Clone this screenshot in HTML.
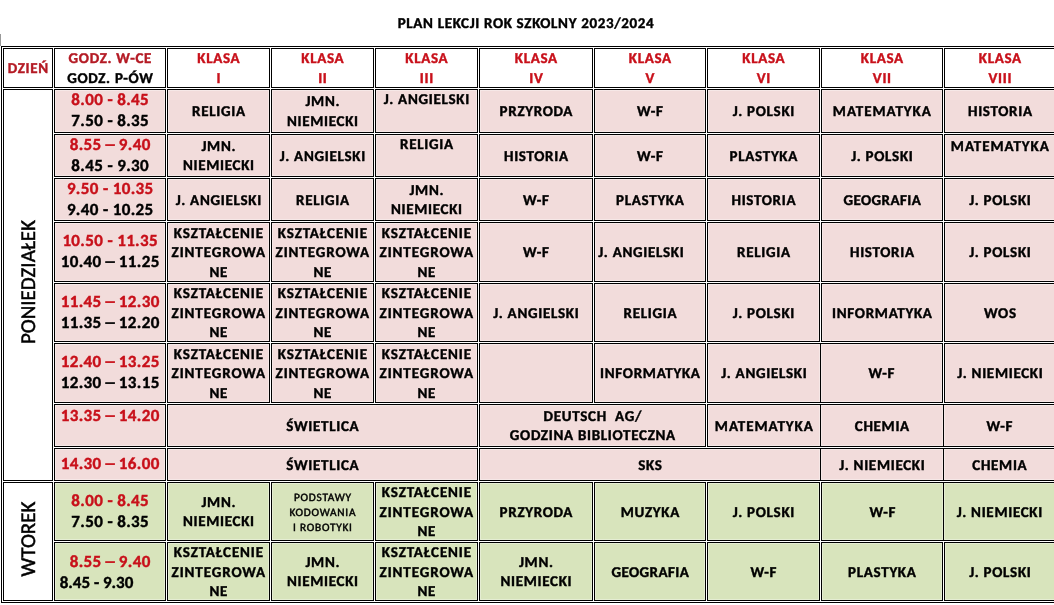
<!DOCTYPE html>
<html lang="pl"><head><meta charset="utf-8"><title>Plan lekcji 2023/2024</title>
<style>
html,body{margin:0;padding:0;background:#fff}
body{width:1054px;height:605px;overflow:hidden;position:relative;font-family:Carlito,"Liberation Sans",sans-serif;font-weight:bold;font-size:15px;color:#000;text-rendering:geometricPrecision;-webkit-text-stroke:.4px}
.title{position:absolute;left:-1px;top:14.6px;width:1054px;text-align:center;letter-spacing:.65px;line-height:19.5px;white-space:nowrap}
.gl{position:absolute;left:0;top:34px;width:1px;height:12px;background:#999}
.tbl{position:absolute;left:1px;top:46px;width:1070px;height:557px;box-sizing:border-box;border:1px solid #000}
.c{position:absolute;box-sizing:border-box;border:1px solid #000;display:flex;align-items:center;justify-content:center;text-align:center;line-height:19.5px;letter-spacing:0.7px;padding-left:0.7px;white-space:nowrap}
.p{background:#F2DCDB;box-shadow:inset 0 0 0 1px rgba(255,255,255,.35)}
.g{background:#D8E4BC;box-shadow:inset 0 0 0 1px rgba(255,255,255,.35)}
.c>div{position:relative;top:1.8px}
.top{align-items:flex-start}
.top>div{margin-top:-1px}
.tm>div{top:0}
.nd{display:inline-block;transform:scaleX(1.5)}
.lft{justify-content:flex-start;padding-left:3.3px}
.tm10{align-items:stretch}
.tm10>div{width:100%;padding-top:9.2px;top:0}
.tm10>div>span:last-child{padding-left:4.3px;letter-spacing:0}
.r{color:#C8101A;-webkit-text-stroke-color:#C8101A}
.hr{color:#B41A24;-webkit-text-stroke-color:#B41A24}
.tm{font-size:17px;line-height:20.6px;letter-spacing:.36px;padding-left:.36px}
.sm{font-size:11.3px;line-height:14.7px;letter-spacing:.78px;padding-left:.78px;font-weight:normal;-webkit-text-stroke:.45px}
.b2{display:block;text-align:left;margin-left:-0px}
.day{position:absolute;font-weight:normal;font-size:21px;line-height:25px;white-space:nowrap;-webkit-text-stroke:.5px;transform:translate(-50%,-50%) rotate(-90deg)}
</style></head><body>
<div class="title">PLAN LEKCJI ROK SZKOLNY 2023/2024</div>
<div class="gl"></div>
<div class="tbl"></div>
<div class="c " style="left:3px;top:48px;width:50px;height:40px;"><div><span class="hr">DZIEŃ</span></div></div>
<div class="c " style="left:54px;top:48px;width:112px;height:40px;"><div><span class="hr">GODZ. W-CE</span><br>GODZ. P-ÓW</div></div>
<div class="c " style="left:167px;top:48px;width:103px;height:40px;"><div><span class="r">KLASA<br>I</span></div></div>
<div class="c " style="left:271px;top:48px;width:103px;height:40px;"><div><span class="r">KLASA<br>II</span></div></div>
<div class="c " style="left:375px;top:48px;width:103px;height:40px;"><div><span class="r">KLASA<br>III</span></div></div>
<div class="c " style="left:479px;top:48px;width:114px;height:40px;"><div><span class="r">KLASA<br>IV</span></div></div>
<div class="c " style="left:594px;top:48px;width:112px;height:40px;"><div><span class="r">KLASA<br>V</span></div></div>
<div class="c " style="left:707px;top:48px;width:113px;height:40px;"><div><span class="r">KLASA<br>VI</span></div></div>
<div class="c " style="left:821px;top:48px;width:122px;height:40px;"><div><span class="r">KLASA<br>VII</span></div></div>
<div class="c " style="left:944px;top:48px;width:112px;height:40px;"><div><span class="r">KLASA<br>VIII</span></div></div>
<div class="c " style="left:3px;top:89px;width:50px;height:392px;"><div></div></div>
<div class="c " style="left:3px;top:482px;width:50px;height:119px;"><div></div></div>
<div class="c p tm" style="left:54px;top:89px;width:112px;height:44px;"><div><span class="r">8.00 - 8.45</span><br>7.50 - 8.35</div></div>
<div class="c p" style="left:167px;top:89px;width:103px;height:44px;"><div>RELIGIA</div></div>
<div class="c p" style="left:271px;top:89px;width:103px;height:44px;"><div>JMN.<br>NIEMIECKI</div></div>
<div class="c p top" style="left:375px;top:89px;width:103px;height:44px;"><div>J. ANGIELSKI</div></div>
<div class="c p" style="left:479px;top:89px;width:114px;height:44px;"><div>PRZYRODA</div></div>
<div class="c p" style="left:594px;top:89px;width:112px;height:44px;"><div>W-F</div></div>
<div class="c p" style="left:707px;top:89px;width:113px;height:44px;"><div>J. POLSKI</div></div>
<div class="c p" style="left:821px;top:89px;width:122px;height:44px;"><div><span style="letter-spacing:0.97px">MATEMATYKA</span></div></div>
<div class="c p" style="left:944px;top:89px;width:112px;height:44px;"><div>HISTORIA</div></div>
<div class="c p tm" style="left:54px;top:134px;width:112px;height:43px;"><div><span class="r">8.55 <span class="nd">–</span> 9.40</span><br>8.45 - 9.30</div></div>
<div class="c p" style="left:167px;top:134px;width:103px;height:43px;"><div>JMN.<br>NIEMIECKI</div></div>
<div class="c p" style="left:271px;top:134px;width:103px;height:43px;"><div>J. ANGIELSKI</div></div>
<div class="c p top" style="left:375px;top:134px;width:103px;height:43px;"><div>RELIGIA</div></div>
<div class="c p" style="left:479px;top:134px;width:114px;height:43px;"><div>HISTORIA</div></div>
<div class="c p" style="left:594px;top:134px;width:112px;height:43px;"><div>W-F</div></div>
<div class="c p" style="left:707px;top:134px;width:113px;height:43px;"><div>PLASTYKA</div></div>
<div class="c p" style="left:821px;top:134px;width:122px;height:43px;"><div>J. POLSKI</div></div>
<div class="c p top" style="left:944px;top:134px;width:112px;height:43px;"><div style="margin-top:1px"><span style="letter-spacing:0.97px">MATEMATYKA</span></div></div>
<div class="c p tm" style="left:54px;top:178px;width:112px;height:43px;"><div><span class="r">9.50 - 10.35</span><br>9.40 - 10.25</div></div>
<div class="c p" style="left:167px;top:178px;width:103px;height:43px;"><div>J. ANGIELSKI</div></div>
<div class="c p" style="left:271px;top:178px;width:103px;height:43px;"><div>RELIGIA</div></div>
<div class="c p" style="left:375px;top:178px;width:103px;height:43px;"><div>JMN.<br>NIEMIECKI</div></div>
<div class="c p" style="left:479px;top:178px;width:114px;height:43px;"><div>W-F</div></div>
<div class="c p" style="left:594px;top:178px;width:112px;height:43px;"><div>PLASTYKA</div></div>
<div class="c p" style="left:707px;top:178px;width:113px;height:43px;"><div>HISTORIA</div></div>
<div class="c p" style="left:821px;top:178px;width:122px;height:43px;"><div><span style="letter-spacing:0.42px">GEOGRAFIA</span></div></div>
<div class="c p" style="left:944px;top:178px;width:112px;height:43px;"><div>J. POLSKI</div></div>
<div class="c p tm" style="left:54px;top:222px;width:112px;height:60px;"><div><span class="r">10.50 - 11.35</span><br>10.40 <span class="nd">–</span> 11.25</div></div>
<div class="c p" style="left:167px;top:222px;width:103px;height:60px;"><div><span style="letter-spacing:0.86px">KSZTAŁCENIE</span><br><span style="letter-spacing:0.92px">ZINTEGROWA</span><br>NE</div></div>
<div class="c p" style="left:271px;top:222px;width:103px;height:60px;"><div><span style="letter-spacing:0.86px">KSZTAŁCENIE</span><br><span style="letter-spacing:0.92px">ZINTEGROWA</span><br>NE</div></div>
<div class="c p" style="left:375px;top:222px;width:103px;height:60px;"><div><span style="letter-spacing:0.86px">KSZTAŁCENIE</span><br><span style="letter-spacing:0.92px">ZINTEGROWA</span><br>NE</div></div>
<div class="c p" style="left:479px;top:222px;width:114px;height:60px;"><div>W-F</div></div>
<div class="c p lft" style="left:594px;top:222px;width:112px;height:60px;"><div>J. ANGIELSKI</div></div>
<div class="c p" style="left:707px;top:222px;width:113px;height:60px;"><div>RELIGIA</div></div>
<div class="c p" style="left:821px;top:222px;width:122px;height:60px;"><div>HISTORIA</div></div>
<div class="c p" style="left:944px;top:222px;width:112px;height:60px;"><div>J. POLSKI</div></div>
<div class="c p tm" style="left:54px;top:283px;width:112px;height:59px;"><div><span class="r">11.45 <span class="nd">–</span> 12.30</span><br>11.35 <span class="nd">–</span> 12.20</div></div>
<div class="c p" style="left:167px;top:283px;width:103px;height:59px;"><div><span style="letter-spacing:0.86px">KSZTAŁCENIE</span><br><span style="letter-spacing:0.92px">ZINTEGROWA</span><br>NE</div></div>
<div class="c p" style="left:271px;top:283px;width:103px;height:59px;"><div><span style="letter-spacing:0.86px">KSZTAŁCENIE</span><br><span style="letter-spacing:0.92px">ZINTEGROWA</span><br>NE</div></div>
<div class="c p" style="left:375px;top:283px;width:103px;height:59px;"><div><span style="letter-spacing:0.86px">KSZTAŁCENIE</span><br><span style="letter-spacing:0.92px">ZINTEGROWA</span><br>NE</div></div>
<div class="c p" style="left:479px;top:283px;width:114px;height:59px;"><div>J. ANGIELSKI</div></div>
<div class="c p" style="left:594px;top:283px;width:112px;height:59px;"><div>RELIGIA</div></div>
<div class="c p" style="left:707px;top:283px;width:113px;height:59px;"><div>J. POLSKI</div></div>
<div class="c p" style="left:821px;top:283px;width:122px;height:59px;"><div>INFORMATYKA</div></div>
<div class="c p" style="left:944px;top:283px;width:112px;height:59px;"><div>WOS</div></div>
<div class="c p tm" style="left:54px;top:343px;width:112px;height:60px;"><div><span class="r">12.40 <span class="nd">–</span> 13.25</span><br>12.30 <span class="nd">–</span> 13.15</div></div>
<div class="c p" style="left:167px;top:343px;width:103px;height:60px;"><div><span style="letter-spacing:0.86px">KSZTAŁCENIE</span><br><span style="letter-spacing:0.92px">ZINTEGROWA</span><br>NE</div></div>
<div class="c p" style="left:271px;top:343px;width:103px;height:60px;"><div><span style="letter-spacing:0.86px">KSZTAŁCENIE</span><br><span style="letter-spacing:0.92px">ZINTEGROWA</span><br>NE</div></div>
<div class="c p" style="left:375px;top:343px;width:103px;height:60px;"><div><span style="letter-spacing:0.86px">KSZTAŁCENIE</span><br><span style="letter-spacing:0.92px">ZINTEGROWA</span><br>NE</div></div>
<div class="c p" style="left:479px;top:343px;width:114px;height:60px;"><div></div></div>
<div class="c p" style="left:594px;top:343px;width:112px;height:60px;"><div>INFORMATYKA</div></div>
<div class="c p" style="left:707px;top:343px;width:114px;height:60px;"><div>J. ANGIELSKI</div></div>
<div class="c p" style="left:821px;top:343px;width:122px;height:60px;border-left:0;"><div>W-F</div></div>
<div class="c p" style="left:944px;top:343px;width:112px;height:60px;"><div>J. NIEMIECKI</div></div>
<div class="c p tm top" style="left:54px;top:404px;width:112px;height:43px;"><div style="margin-top:.5px"><span class="r">13.35 <span class="nd">–</span> 14.20</span></div></div>
<div class="c p" style="left:167px;top:404px;width:311px;height:43px;"><div>ŚWIETLICA</div></div>
<div class="c p" style="left:479px;top:404px;width:227px;height:43px;"><div>DEUTSCH&nbsp; AG/<br>GODZINA BIBLIOTECZNA</div></div>
<div class="c p" style="left:707px;top:404px;width:114px;height:43px;"><div><span style="letter-spacing:0.97px">MATEMATYKA</span></div></div>
<div class="c p" style="left:821px;top:404px;width:123px;height:43px;border-left:0;"><div>CHEMIA</div></div>
<div class="c p" style="left:944px;top:404px;width:112px;height:43px;border-left:0;"><div>W-F</div></div>
<div class="c p tm" style="left:54px;top:448px;width:112px;height:33px;"><div><span class="r">14.30 <span class="nd">–</span> 16.00</span></div></div>
<div class="c p" style="left:167px;top:448px;width:311px;height:33px;"><div>ŚWIETLICA</div></div>
<div class="c p" style="left:479px;top:448px;width:342px;height:33px;"><div>SKS</div></div>
<div class="c p" style="left:821px;top:448px;width:123px;height:33px;border-left:0;"><div>J. NIEMIECKI</div></div>
<div class="c p" style="left:944px;top:448px;width:112px;height:33px;border-left:0;"><div>CHEMIA</div></div>
<div class="c g tm" style="left:54px;top:482px;width:112px;height:59px;"><div><span class="r">8.00 - 8.45</span><br>7.50 - 8.35</div></div>
<div class="c g" style="left:167px;top:482px;width:103px;height:59px;"><div>JMN.<br>NIEMIECKI</div></div>
<div class="c g sm" style="left:271px;top:482px;width:103px;height:59px;"><div>PODSTAWY<br>KODOWANIA<br>I ROBOTYKI</div></div>
<div class="c g" style="left:375px;top:482px;width:103px;height:59px;"><div><span style="letter-spacing:0.86px">KSZTAŁCENIE</span><br><span style="letter-spacing:0.92px">ZINTEGROWA</span><br>NE</div></div>
<div class="c g" style="left:479px;top:482px;width:114px;height:59px;"><div>PRZYRODA</div></div>
<div class="c g" style="left:594px;top:482px;width:112px;height:59px;"><div>MUZYKA</div></div>
<div class="c g" style="left:707px;top:482px;width:113px;height:59px;"><div>J. POLSKI</div></div>
<div class="c g" style="left:821px;top:482px;width:123px;height:59px;"><div>W-F</div></div>
<div class="c g" style="left:944px;top:482px;width:112px;height:59px;border-left:0;"><div>J. NIEMIECKI</div></div>
<div class="c g tm tm10" style="left:54px;top:542px;width:112px;height:59px;"><div><span class="r" style="display:block;text-align:center">8.55 <span class="nd">–</span> 9.40</span><span style="display:block;text-align:left">8.45 - 9.30</span></div></div>
<div class="c g" style="left:167px;top:542px;width:103px;height:59px;"><div><span style="letter-spacing:0.86px">KSZTAŁCENIE</span><br><span style="letter-spacing:0.92px">ZINTEGROWA</span><br>NE</div></div>
<div class="c g" style="left:271px;top:542px;width:103px;height:59px;"><div>JMN.<br>NIEMIECKI</div></div>
<div class="c g" style="left:375px;top:542px;width:103px;height:59px;"><div><span style="letter-spacing:0.86px">KSZTAŁCENIE</span><br><span style="letter-spacing:0.92px">ZINTEGROWA</span><br>NE</div></div>
<div class="c g" style="left:479px;top:542px;width:114px;height:59px;"><div>JMN.<br>NIEMIECKI</div></div>
<div class="c g" style="left:594px;top:542px;width:112px;height:59px;"><div><span style="letter-spacing:0.42px">GEOGRAFIA</span></div></div>
<div class="c g" style="left:707px;top:542px;width:113px;height:59px;"><div>W-F</div></div>
<div class="c g" style="left:821px;top:542px;width:122px;height:59px;"><div>PLASTYKA</div></div>
<div class="c g" style="left:944px;top:542px;width:112px;height:59px;"><div>J. POLSKI</div></div>
<div class="day" style="left:28px;top:282px">PONIEDZIAŁEK</div>
<div class="day" style="left:28px;top:539px">WTOREK</div>
</body></html>
